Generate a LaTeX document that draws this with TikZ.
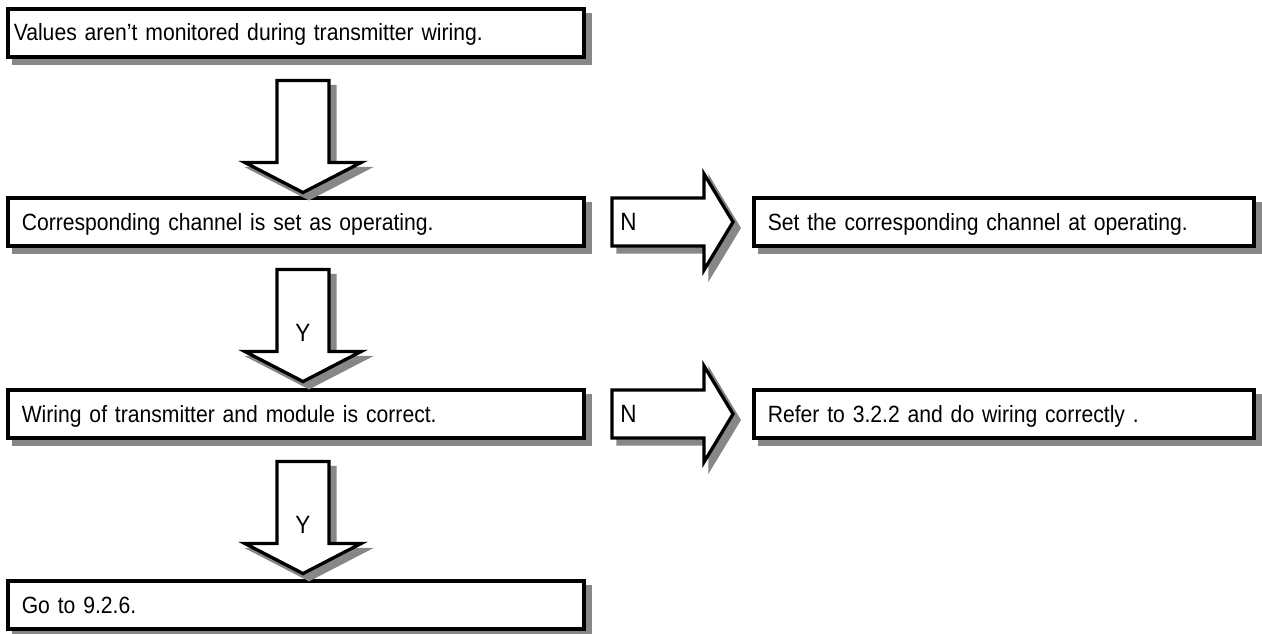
\documentclass[tikz,border=0pt]{standalone}
\usepackage{fontspec}
\setmainfont{Liberation Sans}[FakeStretch=0.9, WordSpace=0.7]
\usetikzlibrary{calc}
\definecolor{shadowgray}{RGB}{135,135,135}
\tikzset{
  shad/.style={preaction={draw=shadowgray, fill=shadowgray, line width=#1,
      transform canvas={shift={(6pt,-6pt)}}}},
  box/.style={draw=black, fill=white, line width=3.6pt, shad=3.6pt,
      minimum height=47.5pt, text height=16pt, text depth=0pt,
      align=left, inner ysep=0pt, font=\fontsize{23.5}{27}\selectfont},
  leftbox/.style={box, inner xsep=14pt, text width=548.5pt},
  firstbox/.style={box, inner xsep=6pt, text width=564.5pt},
  rightbox/.style={box, inner xsep=14pt, text width=472.5pt},
  arrowshape/.style={draw=black, fill=white, line width=3.3pt, shad=3.3pt, line join=miter},
  lbl/.style={font=\fontsize{25}{29}\selectfont, inner sep=0pt, text height=17.5pt, text depth=0pt},
  pics/downarrow/.style={code={
    \path[arrowshape] (-26,0) -- (26,0) -- (26,82) -- (58,82) -- (0,112)
      -- (-58,82) -- (-26,82) -- cycle;}},
  pics/rightarrow/.style={code={
    \path[arrowshape] (0,-24) -- (92,-24) -- (92,-48) -- (121,0) -- (92,48)
      -- (92,24) -- (0,24) -- cycle;}}
}
\begin{document}
\begin{tikzpicture}[x=1pt,y=-1pt]
\useasboundingbox (0,0) rectangle (1262,634);
% boxes
\node[firstbox] (b1) at (296,33) {Values aren’t monitored during transmitter wiring.};
\node[leftbox] (b2) at (296,222) {Corresponding channel is set as operating.};
\node[leftbox] (b3) at (296,414) {Wiring of transmitter and module is correct.};
\node[leftbox] (b4) at (296,605) {Go to 9.2.6.};
\node[rightbox] (r2) at (1004,222) {Set the corresponding channel at operating.};
\node[rightbox] (r3) at (1004,414) {Refer to 3.2.2 and do wiring correctly .};
% connector anchors
\coordinate (a1) at ($(b1.south)+(7,22)$);
\coordinate (a2) at ($(b2.south)+(7,22)$);
\coordinate (a3) at ($(b3.south)+(7,22)$);
\coordinate (n2) at ($(b2.east)+(26,0)$);
\coordinate (n3) at ($(b3.east)+(26,0)$);
% block arrows
\pic at (a1) {downarrow};
\pic at (a2) {downarrow};
\pic at (a3) {downarrow};
\pic at (n2) {rightarrow};
\pic at (n3) {rightarrow};
% labels
\node[lbl] (y2) at ($(a2)+(0,63)$) {Y};
\node[lbl] (y3) at ($(a3)+(0,63)$) {Y};
\node[lbl, anchor=west] (m2) at ($(n2)+(8,0)$) {N};
\node[lbl, anchor=west] (m3) at ($(n3)+(8,0)$) {N};
\end{tikzpicture}
\end{document}
